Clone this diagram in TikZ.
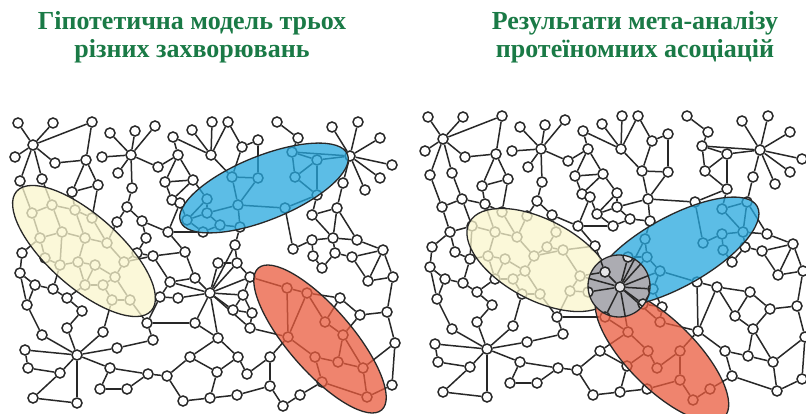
\documentclass[tikz,border=0pt]{standalone}
\usepackage{fontspec}
\setmainfont{Liberation Serif}
\pgfdeclarelayer{bg}
\pgfdeclarelayer{edges}
\pgfsetlayers{bg,edges,main}
\definecolor{ttlgreen}{RGB}{26,122,70}
\definecolor{ylw}{RGB}{250,246,205}
\definecolor{blu}{RGB}{38,168,222}
\definecolor{redd}{RGB}{234,92,62}
\definecolor{gry}{RGB}{172,172,178}
\definecolor{ink}{RGB}{40,40,40}
\newcommand\netnodes{a1/33/145, a2/18/123, a3/53/123, a4/15/157, a5/20/181, a6/42/179, a7/92/122, a8/55/163, a9/86/160, a10/98/185, a11/72/192,
b1/131/155, b2/110/133, b3/135/131, b4/155/126, b5/102/157, b6/118/173, b7/158/167, b8/132/188, b9/127/207, b10/142/221, b11/117/222, b12/146/238,
c1/173/137, c2/192/130, c3/212/122, c4/228/122, c5/211/155, c6/178/155, c7/165/182, c8/193/180, c9/172/200, c10/180/203, c11/168/232,
d1/242/147, d2/258/140, d3/277/122, d4/298/138, d5/332/127, d6/358/122, d7/350/156, d8/380/138, d9/392/165, d10/380/178, d11/365/190, d12/343/183,
e1/292/152, e2/317/160, e3/295/177, e4/317/195, e5/285/208, e6/232/177, e7/258/178, e8/238/205, e9/240/227, e10/220/225, e11/203/232, e12/187/220, e13/207/213, e14/207/199,
f1/235/245, f2/312/215, f3/337/208, f4/333/238, f5/357/240, f6/312/240, f7/313/256, f8/322/268, f9/335/253, f10/352/257, f11/383/250, f12/368/281, f13/393/277, f14/340/298, f15/360/315, f16/387/312, f17/293/249, f18/395/343, f19/392/385,
g1/210/293, g2/218/263, g3/237/263, g4/250/277, g5/243/295, g6/233/310, g7/252/313, g8/250/328, g9/218/338, g10/195/323, g11/178/298, g12/160/297, g13/170/282, g14/195/278, g15/185/252, g16/153/256, g17/137/253, g19/147/323, g20/153/340, g21/238/357, g22/217/372, g23/247/374, g24/270/357, g25/270/386, g26/237/395, g27/210/398, g28/300/395, g29/283/406,
h1/22/253, h2/20/273, h3/35/285, h4/53/289, h5/27/305, h7/67/298, h8/82/311,
h10/77/355, h11/67/328, h12/42/335, h13/25/350, h14/28/368, h15/60/373, h16/103/332, h17/117/348, h18/110/368, h19/77/403, h20/33/398, h21/100/389, h22/127/389, h23/148/374, h24/167/376,
k1/190/357, k2/183/401,
r1/287/288, r2/307/293, r3/325/322, r4/288/337, r5/343/335, r6/315/357, r7/338/362, r8/363/368, r9/322/382, r10/367/397,
y1/32/213, y2/52/205, y3/75/210, y4/92/218, y5/40/238, y6/62/232, y7/85/238, y8/107/243, y9/60/265, y10/78/262, y11/95/265, y12/115/277, y13/85/285, y14/103/285, y15/112/300, y16/130/300, y17/124/262, y18/45/258}
\newcommand\netedges{a1/a2, a1/a3, a1/a4, a1/a5, a1/a6, a1/a7, a1/a8, a8/a9, a7/a9, a9/a10, a9/a11, a10/a11, a5/y1, a6/y2, a11/y3, a10/y4,
b1/b2, b1/b3, b1/b4, b1/b5, b1/b6, b1/b7, b1/b8, b8/b9, b9/b10, b9/b11, b10/b12, b11/y8, b12/g17, b10/c11,
c5/c2, c5/c3, c5/c4, c5/c1, c5/e6, c1/c6, c6/c7, c6/c8, c7/c8, c7/c9, c8/c9, c9/c10, c10/e12, c8/e14, c6/b7, c11/c10, c11/g15, c4/d1, d1/d2, d1/e6, d2/e7,
d3/d4, d4/e1, d7/d5, d7/d6, d7/d8, d7/d9, d7/d10, d7/d11, d7/d12, d7/e2, d7/e1,
e1/e2, e1/e3, e2/e3, e2/e4, e3/e4, e4/e5, e5/e8, e6/e7, e6/e8, e7/e8, e8/e9, e8/e13, e9/e10, e10/e11, e10/e13, e11/e12, e12/e14, e13/e14, e12/e13, e9/f1, e5/f17, e4/f2, e11/c11,
f1/g1, f1/g3, f2/f3, f2/f4, f3/f4, f3/f5, f4/f5, f6/f7, f7/f8, f6/f17, f8/f9, f9/f10, f10/f11, f10/f12, f11/f12, f11/f13, f12/f13, f14/f15, f15/f16, f16/f18, f13/f16, f14/r2, f14/r3, f18/r8, f5/f11, f4/f9, f18/f19, f19/r10, f15/r5, f3/d12, f6/f4,
g1/g2, g1/g3, g1/g4, g1/g5, g1/g6, g1/g9, g1/g10, g1/g11, g1/g14, g1/g8, g1/g13,
g2/g3, g3/g4, g4/g5, g5/g6, g6/g7, g7/g8, g9/g10, g10/g19, g11/g12, g12/g13, g13/g14, g14/g15, g15/g16, g16/g17, g13/g16, g12/g19, g19/g20, g9/g21, g21/g22, g21/g23, g23/g24, g24/g25, g25/g26, g26/g27, g27/g22, g24/r4, g25/g29, g28/g29, g28/r9, g8/r4, g4/r1, g5/g7, g16/y17, g17/y17,
h1/h2, h2/h3, h2/h5, h3/h4, h3/h5, h4/h7, h7/h8, h8/h11, h1/y5, h4/y9, h7/y13, h5/h12,
h10/h11, h10/h12, h10/h13, h10/h15, h10/h16, h10/h17, h10/h18, h10/h19, h13/h14, h14/h15, h15/h20, h20/h19, h18/h21, h21/h22, h22/h23, h18/h23, h17/g20, h23/h24, h24/k1, h24/k2, k2/g27, k1/g22, k1/g9, h16/y15, y16/g19,
r1/r2, r2/r3, r2/r4, r1/r4, r4/r6, r3/r5, r6/r7, r7/r5, r7/r8, r5/r8, r6/r9, r9/r10, r8/r10,
y1/y2, y2/y3, y3/y4, y1/y5, y2/y6, y4/y8, y5/y6, y6/y7, y7/y8, y5/y18, y6/y9, y18/y9, y9/y10, y10/y11, y7/y10, y11/y13, y10/y13, y11/y12, y8/y17, y17/y12, y12/y14, y13/y14, y14/y15, y15/y16, y12/y16, y3/y7}
\newcommand\drawnet[1]{%
  \foreach \n/\x/\y in \netnodes {\node[nd] (#1\n) at (\x,\y) {};}
  \begin{pgfonlayer}{edges}
    \foreach \p/\q in \netedges {\draw[ln] (#1\p) -- (#1\q);}
  \end{pgfonlayer}}
\newcommand\drawflat[1]{%
  \foreach \n/\x/\y in \netnodes {\node[ndg] (#1\n) at (\x,\y) {};}
  \foreach \p/\q in \netedges {\draw[ln] (#1\p) -- (#1\q);}}
\begin{document}
\begin{tikzpicture}[x=1pt,y=-1pt,
  nd/.style={circle, draw=ink, fill=white, line width=1.5pt, minimum size=10pt, inner sep=0pt},
  ndg/.style={nd, fill=white!70!gry},
  ln/.style={draw=ink, line width=1.5pt},
  ttl/.style={font=\bfseries\fontsize{26}{28}\selectfont, text=ttlgreen, anchor=base},
  ell/.style={draw=ink, line width=1.3pt, fill opacity=0.75}]
\begin{pgfonlayer}{bg}
  \fill[white] (0,0) rectangle (806,414);
\end{pgfonlayer}
\useasboundingbox (0,0) rectangle (806,414);
% titles
\node[ttl] (t1) at (192,30) {Гіпотетична модель трьох};
\node[ttl] (t2) at (192,58) {різних захворювань};
\node[ttl] (t3) at (635,30) {Результати мета-аналізу};
\node[ttl] (t4) at (635,58) {протеїномних асоціацій};
% left network
\drawnet{L}
\draw[ell, fill=ylw, rotate around={-41.6:(84,251)}] (84,251) ellipse [x radius=90, y radius=36];
\draw[ell, fill=blu, rotate around={22:(264,188)}] (264,188) ellipse [x radius=90, y radius=32];
\draw[ell, fill=redd, rotate around={-49:(320,339)}] (320,339) ellipse [x radius=94, y radius=32];
% right network
\begin{scope}[shift={(410,-6)}]
\drawnet{R}
\end{scope}
\draw[ell, fill=ylw, rotate around={-28:(540,260)}] (540,260) ellipse [x radius=80, y radius=40];
\draw[ell, fill=redd, rotate around={-45:(662,355)}] (662,355) ellipse [x radius=88, y radius=34];
\draw[ell, fill=blu, rotate around={29:(675,252)}] (675,252) ellipse [x radius=94, y radius=35];
% shared core: grey disc with the hub network redrawn on top
\begin{scope}
  \clip (619,286) circle [radius=31];
  \fill[gry] (619,286) circle [radius=31];
  \begin{scope}[shift={(410,-6)}]
    \drawflat{Q}
  \end{scope}
\end{scope}
\draw[draw=ink, line width=1.3pt] (619,286) circle [radius=31];
\end{tikzpicture}
\end{document}
